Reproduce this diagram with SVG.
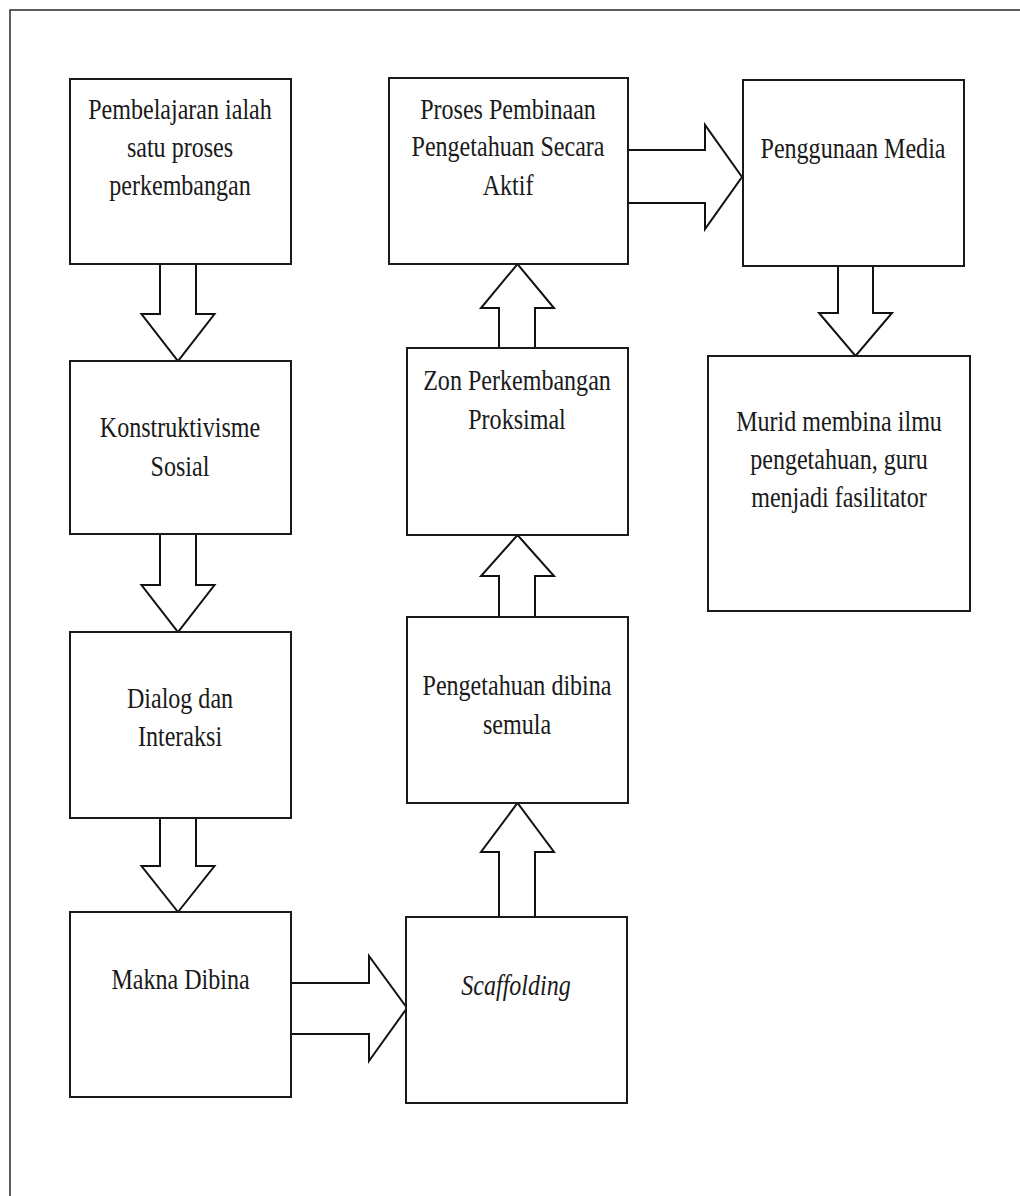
<svg xmlns="http://www.w3.org/2000/svg" width="1020" height="1196" viewBox="0 0 1020 1196">
<style>
.frame{fill:none;stroke:#2a2a2a;stroke-width:1.5}
.box{fill:#fff;stroke:#1a1a1a;stroke-width:2}
.arr{fill:#fff;stroke:#111;stroke-width:2;stroke-linejoin:miter}
.t{font-family:"Liberation Serif","Times New Roman",serif;font-size:29px;fill:#1a1a1a;text-anchor:middle}
.it{font-style:italic}
</style>
<rect width="1020" height="1196" fill="#fff"/>
<rect class="frame" x="10" y="10" width="1030" height="1210"/>
<g id="connectors">
<polygon class="arr" points="160,264 196,264 196,314 214.5,314 178,361 141.5,314 160,314"/>
<polygon class="arr" points="160,534 196,534 196,585 214.5,585 178,632 141.5,585 160,585"/>
<polygon class="arr" points="160,818 196,818 196,866 214.5,866 178,912 141.5,866 160,866"/>
<polygon class="arr" points="291,983 369,983 369,956 407,1008 369,1061 369,1034 291,1034"/>
<polygon class="arr" points="499,917 535,917 535,852 554,852 517.5,803 481,852 499,852"/>
<polygon class="arr" points="499,617 535,617 535,576 554,576 517.5,535 481,576 499,576"/>
<polygon class="arr" points="499,348 535,348 535,308 554,308 517.5,264 481,308 499,308"/>
<polygon class="arr" points="628,150 705,150 705,125 742,177 705,229 705,203 628,203"/>
<polygon class="arr" points="838,266 873,266 873,313 892,313 855.5,356 819,313 838,313"/>
</g>
<g id="n1">
<rect class="box" x="70" y="79" width="221" height="185"/>
<text class="t" transform="translate(180 0) scale(0.83 1)"><tspan x="0" y="119">Pembelajaran ialah</tspan><tspan x="0" y="157">satu proses</tspan><tspan x="0" y="195">perkembangan</tspan></text>
</g>
<g id="n2">
<rect class="box" x="70" y="361" width="221" height="173"/>
<text class="t" transform="translate(180 0) scale(0.83 1)"><tspan x="0" y="437">Konstruktivisme</tspan><tspan x="0" y="476">Sosial</tspan></text>
</g>
<g id="n3">
<rect class="box" x="70" y="632" width="221" height="186"/>
<text class="t" transform="translate(180 0) scale(0.83 1)"><tspan x="0" y="708">Dialog dan</tspan><tspan x="0" y="746">Interaksi</tspan></text>
</g>
<g id="n4">
<rect class="box" x="70" y="912" width="221" height="185"/>
<text class="t" transform="translate(180.5 0) scale(0.83 1)"><tspan x="0" y="989">Makna Dibina</tspan></text>
</g>
<g id="n5">
<rect class="box" x="406" y="917" width="221" height="186"/>
<text class="t it" transform="translate(516 0) scale(0.83 1)"><tspan x="0" y="995">Scaffolding</tspan></text>
</g>
<g id="n6">
<rect class="box" x="407" y="617" width="221" height="186"/>
<text class="t" transform="translate(517 0) scale(0.83 1)"><tspan x="0" y="695">Pengetahuan dibina</tspan><tspan x="0" y="734">semula</tspan></text>
</g>
<g id="n7">
<rect class="box" x="407" y="348" width="221" height="187"/>
<text class="t" transform="translate(517 0) scale(0.83 1)"><tspan x="0" y="390">Zon Perkembangan</tspan><tspan x="0" y="429">Proksimal</tspan></text>
</g>
<g id="n8">
<rect class="box" x="389" y="78" width="239" height="186"/>
<text class="t" transform="translate(508 0) scale(0.83 1)"><tspan x="0" y="119">Proses Pembinaan</tspan><tspan x="0" y="156">Pengetahuan Secara</tspan><tspan x="0" y="195">Aktif</tspan></text>
</g>
<g id="n9">
<rect class="box" x="743" y="80" width="221" height="186"/>
<text class="t" transform="translate(853 0) scale(0.83 1)"><tspan x="0" y="158">Penggunaan Media</tspan></text>
</g>
<g id="n10">
<rect class="box" x="708" y="356" width="262" height="255"/>
<text class="t" transform="translate(839 0) scale(0.83 1)"><tspan x="0" y="431">Murid membina ilmu</tspan><tspan x="0" y="469">pengetahuan, guru</tspan><tspan x="0" y="507">menjadi fasilitator</tspan></text>
</g>
</svg>
